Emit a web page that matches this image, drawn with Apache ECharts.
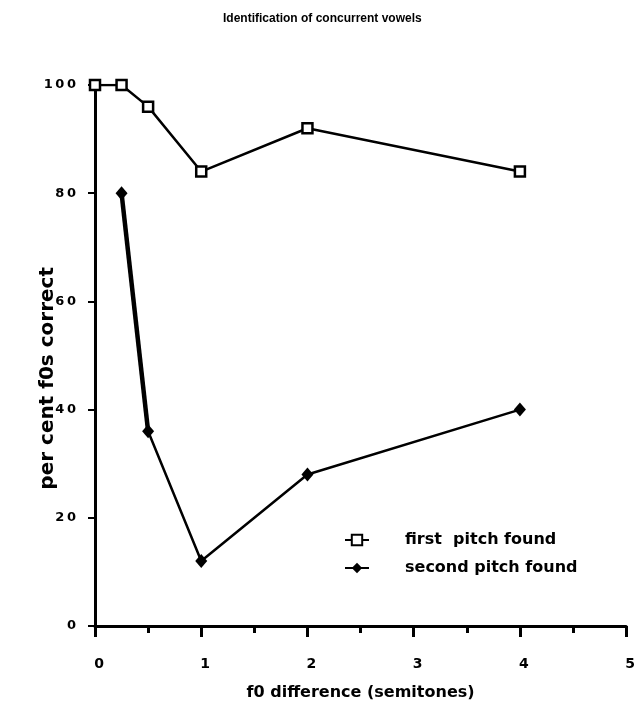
<!DOCTYPE html>
<html>
<head>
<meta charset="utf-8">
<script src="https://cdn.jsdelivr.net/npm/echarts@6/dist/echarts.min.js"></script>
<style>
  html, body { margin: 0; padding: 0; background: #fff; }
  #chart { width: 638px; height: 707px; }
</style>
</head>
<body>
<div id="chart"></div>
<script>
// f0 separation between the two vowels, in semitones
const f0Diff = [0, 0.25, 0.5, 1, 2, 4];
// per cent of trials where each pitch was recovered
const firstPitch = [100, 100, 96, 84, 92, 84];
const secondPitch = [null, 80, 36, 12, 28, 40];
const xTicks = [0, 1, 2, 3, 4, 5];
const yTicks = [0, 20, 40, 60, 80, 100];

const FONT = '"Liberation Sans", Arial, Helvetica, sans-serif';
const WIDE = '"DejaVu Sans", "Liberation Sans", sans-serif';
const pairs = (ys) => f0Diff.map((x, i) => [x, ys[i]]).filter(p => p[1] !== null);
const secondPairs = pairs(secondPitch);

const chart = echarts.init(document.getElementById('chart'), null, { renderer: 'canvas' });
chart.setOption({
  animation: false,
  backgroundColor: '#fff',
  title: {
    text: 'Identification of concurrent vowels',
    left: 218, top: 8,
    textStyle: { fontFamily: FONT, fontSize: 12, fontWeight: 'bold', color: '#000' }
  },
  grid: { left: 95, right: 11, top: 85, bottom: 81, containLabel: false },
  legend: {
    orient: 'vertical',
    left: 344, top: 530, padding: 0,
    itemWidth: 24, itemHeight: 13, itemGap: 8,
    data: ['first  pitch found', 'second pitch found'],
    textStyle: {
      fontFamily: WIDE, fontSize: 16, fontWeight: 'bold', color: '#000',
      lineHeight: 20, padding: [0, 0, 0, 31]
    }
  },
  xAxis: {
    type: 'value',
    min: xTicks[0], max: xTicks[xTicks.length - 1], interval: 1,
    name: 'f0 difference (semitones)',
    nameLocation: 'middle', nameGap: 59,
    nameTextStyle: { fontFamily: WIDE, fontSize: 16, fontWeight: 'bold', color: '#000' },
    axisLine: { show: true, lineStyle: { color: '#000', width: 3 } },
    axisTick: { show: true, length: 11, lineStyle: { color: '#000', width: 3 } },
    minorTick: { show: true, splitNumber: 2, length: 7, lineStyle: { color: '#000', width: 3 } },
    axisLabel: {
      margin: 31, padding: [0, 0, 0, 8],
      fontFamily: WIDE, fontSize: 14, fontWeight: 'bold', color: '#000'
    },
    splitLine: { show: false }
  },
  yAxis: {
    type: 'value',
    min: yTicks[0], max: yTicks[yTicks.length - 1], interval: 20,
    axisLine: { show: true, lineStyle: { color: '#000', width: 3 } },
    axisTick: { show: true, length: 7, lineStyle: { color: '#000', width: 2 } },
    axisLabel: {
      margin: 19, fontFamily: WIDE, fontSize: 13, fontWeight: 'bold', color: '#000',
      formatter: v => String(v).split('').join('\u2009')
    },
    splitLine: { show: false }
  },
  graphic: [{
    type: 'text',
    left: 38, top: 267,
    rotation: Math.PI / 2,
    style: {
      text: 'per cent f0s correct',
      font: 'bold 20px ' + WIDE,
      fill: '#000'
    }
  }],
  series: [
    {
      name: 'first  pitch found',
      type: 'line',
      data: pairs(firstPitch),
      symbol: 'rect', symbolSize: 10,
      lineStyle: { color: '#000', width: 2.5 },
      itemStyle: { color: '#fff', borderColor: '#000', borderWidth: 2.5 },
      z: 3
    },
    {
      name: 'second pitch found',
      type: 'line',
      data: secondPairs,
      symbol: 'diamond', symbolSize: [12, 14],
      lineStyle: { color: '#000', width: 2.5 },
      itemStyle: { color: '#000', borderColor: '#000', borderWidth: 0 },
      z: 3
    },
    {
      // heavier stroke on the steep first drop
      type: 'line',
      data: secondPairs.slice(0, 2),
      symbol: 'none',
      silent: true,
      lineStyle: { color: '#000', width: 4.5 },
      z: 2
    }
  ]
});
</script>
</body>
</html>
